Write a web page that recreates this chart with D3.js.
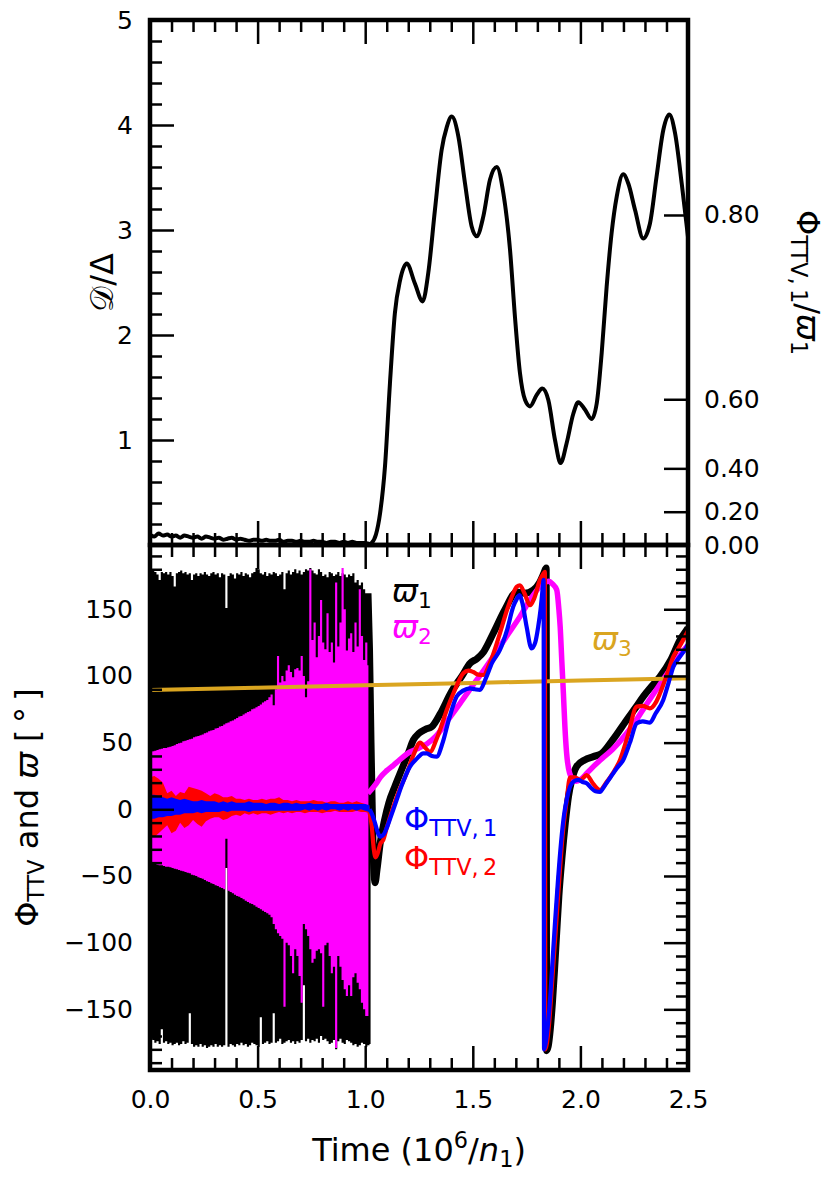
<!DOCTYPE html>
<html><head><meta charset="utf-8">
<script src="https://cdn.jsdelivr.net/npm/d3@7"></script>
<style>body{margin:0;background:#fff}svg{display:block}text{font-family:"DejaVu Sans",sans-serif}</style>
</head><body><svg id="c" width="830" height="1178"></svg>
<script>
// ---------------- DATA ----------------
const xTicks = [0, 0.5, 1.0, 1.5, 2.0, 2.5];
const xTickLabels = ["0.0", "0.5", "1.0", "1.5", "2.0", "2.5"];
const topTicks = [1, 2, 3, 4, 5];
const topTickLabels = ["1", "2", "3", "4", "5"];
const twinTicks = [0, 0.2, 0.4, 0.6, 0.8];
const twinTickLabels = ["0.00", "0.20", "0.40", "0.60", "0.80"];
const twinEquiv = [0, 0.317, 0.730, 1.388, 3.143];   // D/Δ value at which each twin tick sits
const botTicks = [-150, -100, -50, 0, 50, 100, 150];
const botTickLabels = ["\u2212150", "\u2212100", "\u221250", "0", "50", "100", "150"];

// top panel: D/Δ
const topEarlyD = [0.10,0.08,0.11,0.09,0.10,0.08,0.09,0.07,0.09,0.08,
  0.07,0.08,0.06,0.08,0.07,0.06,0.07,0.05,0.06,0.07,
  0.05,0.06,0.05,0.04,0.05,0.05,0.04,0.05,0.04,0.04,
  0.05,0.03,0.04,0.04,0.03,0.04,0.03,0.03,0.04,0.03,
  0.03,0.02,0.03,0.03,0.02,0.03,0.02,0.03,0.02,0.02,
  0.02,0.01];
const topLateT = [1.03,1.05,1.069,1.092,1.115,1.138,1.162,1.193,1.231,1.267,
  1.293,1.324,1.355,1.379,1.402,1.433,1.464,1.495,1.518,1.549,
  1.580,1.611,1.642,1.673,1.696,1.719,1.743,1.766,1.797,1.823,
  1.851,1.882,1.908,1.936,1.967,1.990,2.021,2.052,2.076,2.099,
  2.122,2.145,2.169,2.199,2.223,2.254,2.292,2.323,2.354,2.385,
  2.413,2.440,2.471,2.502];
const topLateD = [0.02,0.10,0.30,0.75,1.54,2.21,2.52,2.68,2.49,2.32,
  2.59,3.19,3.76,3.98,4.08,3.89,3.44,3.03,2.94,3.13,
  3.48,3.60,3.35,2.81,2.17,1.64,1.38,1.32,1.43,1.49,
  1.38,1.00,0.78,0.97,1.25,1.36,1.29,1.20,1.35,1.83,
  2.46,2.97,3.32,3.53,3.44,3.19,2.92,3.06,3.51,3.95,
  4.10,3.92,3.44,2.90];

// bottom panel, circulating phase (t = 0 .. 1.02, step 0.01): envelopes of ϖ1 and ϖ2
const w1Top = [179,179,178,176,172,178,177,178,176,178,
  175,167,177,178,179,177,178,176,177,172,
  176,177,175,177,176,178,176,175,177,178,
  176,177,174,177,176,151,175,177,176,173,
  177,176,178,175,177,176,174,177,178,181,
  180,177,176,178,175,177,176,178,177,175,
  176,178,165,177,179,176,178,180,177,179,
  176,178,180,179,181,179,177,176,180,178,
  175,176,174,178,177,175,176,178,175,177,
  176,174,176,175,177,170,172,168,170,165,
  160,161,158];
const w1Bot = [-172,-173,-175,-174,-176,-165,-175,-174,-176,-175,
  -177,-176,-175,-177,-176,-174,-176,-175,-153,-176,
  -178,-177,-178,-176,-178,-177,-179,-178,-177,-178,
  -176,-178,-177,-178,-177,-44,-178,-176,-177,-178,
  -176,-177,-175,-177,-176,-178,-177,-175,-176,-177,
  -178,-156,-176,-175,-174,-176,-175,-153,-175,-174,
  -172,-176,-175,-174,-173,-175,-174,-176,-174,-175,
  -173,-132,-174,-172,-175,-173,-174,-172,-175,-170,
  -173,-172,-174,-176,-175,-173,-180,-174,-172,-175,
  -176,-173,-174,-175,-177,-176,-178,-177,-175,-176,
  -178,-177,-176];
const w2Top = [43,43.5,44,44.5,45,45.5,46,46,46.5,47,
  47.5,48,49,49.5,50,51,51.5,52,52.5,53,
  54,54.5,55,55.5,56,57,57.5,58.5,59,59.5,
  60.5,61,62,62.5,63.5,64.5,65,66,66.5,67.5,
  68.5,69.5,70,71,72,73,73.5,75,75.5,76.5,
  77.5,78.5,80,81,82,84,86,78,90,115,
  95,100,96,104,108,103,99,105,106,104,
  115,100,84,96,180,127,140,114,130,157,
  125,120,147,118,125,110,170,122,140,181,
  150,119,128,132,118,140,122,165,130,112,
  125,108];
const w2Bot = [-40,-40.5,-41,-41.5,-42,-42,-42.5,-43,-43,-43.5,
  -44,-44.5,-45,-45.5,-46,-46.5,-47,-47.5,-48,-49,
  -49.5,-50,-51,-51.5,-52,-53,-54,-54.5,-55.5,-56,
  -57,-57.5,-58.5,-59,-60,-22,-61,-62,-63,-64,
  -65,-65.5,-66.5,-67.5,-68.5,-69.5,-70.5,-71,-72,-73,
  -74,-75,-76,-77,-78,-79,-81,-86,-90,-93,
  -95,-97,-148,-100,-102,-110,-123,-105,-110,-125,
  -145,-86,-90,-95,-105,-115,-112,-106,-105,-108,
  -148,-102,-100,-110,-123,-118,-179,-110,-118,-128,
  -135,-140,-132,-140,-126,-123,-130,-135,-145,-150,
  -155,-155];
// Φ_TTV bands in the early phase (t = 0 .. 1.02, step 0.02)
const p2Hi = [24,25,23,20,12,14,10,13,12,17,16,15,14,12,10,12,11,9,9,10,8,8,7,8,7,7,8,7,8,8,9,7,7,6,7,6,6,6,7,6,6,5,6,6,5,5,6,5,6,5,4,2];
const p2Lo = [-20,-21,-18,-15,-12,-18,-16,-10,-14,-12,-8,-11,-13,-9,-7,-6,-6,-8,-7,-5,-4,-5,-3,-4,-3,-4,-3,-3,-4,-3,-2,-3,-2,-3,-2,-2,-3,-2,-2,-2,-3,-2,-2,-1,-2,-2,-2,-2,-1,-2,-2,-3];
const p1Hi = [11,11,10,9,8,9,8,7,8,7,6,6,7,6,6,6,5,6,5,6,5,5,5,6,5,5,5,4,5,5,4,5,5,4,5,4,4,5,4,4,4,5,4,4,4,4,4,4,4,4,4,3];
const p1Lo = [-7,-7,-6,-6,-5,-5,-4,-4,-3,-3,-3,-2,-3,-2,-2,-2,-2,-1,-2,-1,-1,-1,-1,-2,-1,-1,-1,-1,-1,-1,-1,-1,-1,-1,-1,-1,0,-1,0,-1,0,-1,0,0,-1,0,-1,0,-1,0,-1,-2];

// libration phase
const w1LateT = [1.013,1.02,1.027,1.034,1.04,1.046,1.055,1.07,1.09,1.11,
  1.14,1.17,1.2,1.224,1.25,1.28,1.31,1.35,1.40,1.45,
  1.487,1.52,1.55,1.595,1.65,1.704,1.74,1.781,1.81,1.83,
  1.841,1.843,1.85,1.86,1.87,1.88,1.89,1.90,1.915,1.93,
  1.945,1.96,1.982,2.02,2.06,2.10,2.15,2.215,2.26,2.292,
  2.33,2.37,2.42,2.463,2.494,2.5];
const w1LateV = [162,120,50,-10,-45,-55,-45,-25,-8,5,
  18,30,42,52,57,60,62,72,88,100,
  109.5,113,118,132,150,163,162,164.5,170,177,
  181,-181,-178,-165,-145,-120,-92,-65,-35,-10,
  10,22,32,37,39.5,42,52,67,77,84.5,
  92,99.5,112,127,134.5,136];
const w2LateT = [1.013,1.03,1.05,1.07,1.10,1.131,1.16,1.208,1.25,1.286,
  1.33,1.38,1.441,1.5,1.55,1.595,1.65,1.719,1.77,1.812,
  1.835,1.851,1.87,1.89,1.90,1.906,1.914,1.921,1.928,1.936,
  1.95,1.967,1.98,1.998,2.03,2.06,2.1,2.15,2.215,2.26,
  2.3,2.373,2.43,2.494,2.5];
const w2LateV = [12,15,19,24,29,33,37,43,46,49,
  55,66,79.5,93,104,114.5,128,144.5,158,167,
  170,171,169,164.5,150,137,110,87,62,42,
  27,22,21,22,27,32,38,45,57,67,
  77,94.5,108,122,123];
const w3T = [0, 0.5, 1.0, 1.5, 2.0, 2.5];
const w3V = [89.5, 91.2, 93.0, 94.8, 96.5, 98.2];
const p1LateT = [1.02,1.03,1.045,1.06,1.07,1.085,1.10,1.12,1.146,1.17,
  1.208,1.24,1.27,1.286,1.31,1.332,1.36,1.39,1.425,1.455,
  1.487,1.51,1.533,1.56,1.59,1.626,1.66,1.688,1.705,1.716,
  1.73,1.75,1.773,1.79,1.804,1.815,1.824,1.829,1.831,1.838,
  1.85,1.86,1.87,1.882,1.895,1.91,1.925,1.94,1.952,1.97,
  1.99,2.01,2.029,2.05,2.07,2.091,2.11,2.14,2.17,2.199,
  2.23,2.262,2.29,2.323,2.35,2.385,2.41,2.432,2.46,2.494,
  2.5];
const p1LateV = [0,-3,-10,-18,-20.5,-19,-14,-5,7,18,
  32,38,42,42,40,39.5,50,68,84.5,89,
  90.7,90,89.5,98,110,119.5,135,152,158,160.7,
  155,137,120.7,125,137,150,164.5,172,-180,-176,
  -160,-140,-115,-85,-55,-25,-3,10,17,21,
  22,20.5,19.5,16,13.5,13,17,24,31,37,
  50,64.5,66,65,72,82,95,107,114,122,
  124];
const p2LateT = [1.02,1.03,1.04,1.048,1.058,1.07,1.084,1.10,1.131,1.16,
  1.193,1.225,1.255,1.28,1.301,1.33,1.355,1.379,1.41,1.456,
  1.48,1.502,1.525,1.549,1.58,1.626,1.66,1.688,1.705,1.719,
  1.74,1.766,1.785,1.812,1.825,1.835,1.837,1.845,1.855,1.865,
  1.877,1.89,1.903,1.917,1.935,1.952,1.975,2.0,2.029,2.06,
  2.091,2.12,2.15,2.184,2.22,2.262,2.29,2.323,2.35,2.37,
  2.40,2.432,2.46,2.494,2.5];
const p2LateV = [-2,-12,-30,-36,-33,-26,-23,-14,2,15,
  27,41,50,46,43,52,63,74.5,87,102,
  104,103,101,100.7,110,132,150,162,167,168,
  162,153,158,172,176,178,-180,-175,-160,-138,
  -110,-80,-50,-20,5,24,24,22,25.7,19,
  14.5,20,27,37,55,77,77.5,75.7,80,87,
  100,114.5,122,132,134];

// ---------------- LAYOUT ----------------
const L = 150, R = 688, T1 = 20, B1 = 545, T2 = 545, B2 = 1070;
const COL = {w1: "#000000", w2: "#ff00ff", w3: "#daa520", p1: "#0000ff", p2: "#ff0000"};
const svg = d3.select("#c");
const x = d3.scaleLinear().domain([0, 2.5]).range([L, R]);
const yT = d3.scaleLinear().domain([0, 5]).range([B1, T1]);
const yB = d3.scaleLinear().domain([-195.5, 198.2]).range([B2, T2]);
const yR = d3.scaleLinear().domain(twinTicks).range(twinEquiv.map(v => yT(v)));

const defs = svg.append("defs");
defs.append("clipPath").attr("id", "cp1").append("rect").attr("x", L).attr("y", T1).attr("width", R - L).attr("height", B1 - T1);
defs.append("clipPath").attr("id", "cp2").append("rect").attr("x", L).attr("y", T2).attr("width", R - L).attr("height", B2 - T2);

// ---------------- TOP PANEL ----------------
const gTop = svg.append("g").attr("clip-path", "url(#cp1)");
const topData = topEarlyD.map((d, i) => ({t: i * 0.02, v: d}))
  .concat(topLateT.map((t, i) => ({t, v: topLateD[i]})));
gTop.append("path").datum(topData)
  .attr("d", d3.line().x(d => x(d.t)).y(d => yT(d.v)).curve(d3.curveMonotoneX))
  .attr("fill", "none").attr("stroke", "#000").attr("stroke-width", 4).attr("stroke-linejoin", "round");

// ---------------- BOTTOM PANEL ----------------
const gB = svg.append("g").attr("clip-path", "url(#cp2)");
function band(hi, lo, step, extra) {
  const arr = hi.map((h, i) => ({t: i * step, hi: h, lo: lo[i]}));
  if (extra) { const l = arr[arr.length - 1]; arr.push({t: l.t + extra, hi: l.hi, lo: l.lo}); }
  return arr;
}
const areaStep = d3.area().x(d => x(d.t)).y0(d => yB(d.lo)).y1(d => yB(d.hi)).curve(d3.curveStepAfter);
const areaLin = d3.area().x(d => x(d.t)).y0(d => yB(d.lo)).y1(d => yB(d.hi));
const lineB = d3.line().x(d => x(d.t)).y(d => yB(d.v)).curve(d3.curveMonotoneX);
const pts = (T, V) => T.map((t, i) => ({t, v: V[i]}));

// ϖ1
gB.append("path").datum(band(w1Top, w1Bot, 0.01, 0.005)).attr("d", areaStep).attr("fill", COL.w1);
gB.append("path").datum(pts(w1LateT, w1LateV)).attr("d", lineB)
  .attr("fill", "none").attr("stroke", COL.w1).attr("stroke-width", 7).attr("stroke-linejoin", "round");
// ϖ2
gB.append("path").datum(band(w2Top, w2Bot, 0.01, 0.005)).attr("d", areaStep).attr("fill", COL.w2);
gB.append("path").datum(pts(w2LateT, w2LateV)).attr("d", lineB)
  .attr("fill", "none").attr("stroke", COL.w2).attr("stroke-width", 5.5).attr("stroke-linejoin", "round");
// ϖ3
gB.append("path").datum(pts(w3T, w3V)).attr("d", d3.line().x(d => x(d.t)).y(d => yB(d.v)))
  .attr("fill", "none").attr("stroke", COL.w3).attr("stroke-width", 4);
// Φ_TTV,2
gB.append("path").datum(band(p2Hi, p2Lo, 0.02)).attr("d", areaLin).attr("fill", COL.p2);
gB.append("path").datum(pts(p2LateT, p2LateV)).attr("d", lineB)
  .attr("fill", "none").attr("stroke", COL.p2).attr("stroke-width", 4.2).attr("stroke-linejoin", "round");
// Φ_TTV,1
gB.append("path").datum(band(p1Hi, p1Lo, 0.02)).attr("d", areaLin).attr("fill", COL.p1);
gB.append("path").datum(pts(p1LateT, p1LateV)).attr("d", lineB)
  .attr("fill", "none").attr("stroke", COL.p1).attr("stroke-width", 4.2).attr("stroke-linejoin", "round");

// ---------------- AXES ----------------
const MAJ = 24, MIN = 12, FS = 25;
const xMinor = d3.range(0, 2.5001, 0.1).filter(v => Math.abs(v * 2 - Math.round(v * 2)) > 1e-6);
const topMinor = d3.range(0, 5.0001, 0.2).filter(v => Math.abs(v - Math.round(v)) > 1e-6);
const botMinor = d3.range(-190, 191, 10).filter(v => v % 50 !== 0);

function axis(gen, pos, vals, size, fmt, pad) {
  const g = svg.append("g").attr("transform", pos).call(
    gen.tickValues(vals).tickSize(-size).tickPadding(pad || 0).tickFormat(fmt || (() => "")));
  g.select(".domain").remove();
  g.selectAll(".tick line").attr("stroke", "#000").attr("stroke-width", 2.5);
  g.selectAll(".tick text").attr("font-size", FS).attr("font-family", "DejaVu Sans").attr("fill", "#000");
  return g;
}
// x axes (all four horizontal spines)
axis(d3.axisTop(x), `translate(0,${T1})`, xTicks, MAJ);
axis(d3.axisTop(x), `translate(0,${T1})`, xMinor, MIN);
axis(d3.axisBottom(x), `translate(0,${B1})`, xTicks, MAJ);
axis(d3.axisBottom(x), `translate(0,${B1})`, xMinor, MIN);
axis(d3.axisTop(x), `translate(0,${T2})`, xTicks, MAJ);
axis(d3.axisTop(x), `translate(0,${T2})`, xMinor, MIN);
axis(d3.axisBottom(x), `translate(0,${B2})`, xTicks, MAJ, (d, i) => xTickLabels[i], 20);
axis(d3.axisBottom(x), `translate(0,${B2})`, xMinor, MIN);
// top panel y
axis(d3.axisLeft(yT), `translate(${L},0)`, topTicks, MAJ, (d, i) => topTickLabels[i], 17);
axis(d3.axisLeft(yT), `translate(${L},0)`, topMinor, MIN);
axis(d3.axisRight(yR), `translate(${R},0)`, twinTicks, MAJ, (d, i) => twinTickLabels[i], 16);
// bottom panel y
axis(d3.axisLeft(yB), `translate(${L},0)`, botTicks, MAJ, (d, i) => botTickLabels[i], 17);
axis(d3.axisLeft(yB), `translate(${L},0)`, botMinor, MIN);
axis(d3.axisRight(yB), `translate(${R},0)`, botTicks, MAJ);
axis(d3.axisRight(yB), `translate(${R},0)`, botMinor, MIN);

// spines
[[T1, B1], [T2, B2]].forEach(([a, b]) => {
  svg.append("rect").attr("x", L).attr("y", a).attr("width", R - L).attr("height", b - a)
    .attr("fill", "none").attr("stroke", "#000").attr("stroke-width", 4.5);
});

// ---------------- TEXT ----------------
function rich(parent, parts, size, attrs) {
  const t = parent.append("text").attr("font-size", size).attr("fill", "#000");
  Object.entries(attrs || {}).forEach(([k, v]) => t.attr(k, v));
  let shift = 0;
  parts.forEach(p => {
    const ts = t.append("tspan").text(p.t);
    const target = p.sub ? size * 0.2 : p.sup ? -size * 0.42 : 0;
    if (target !== shift) ts.attr("dy", target - shift);
    shift = target;
    if (p.sub || p.sup) ts.attr("font-size", size * 0.7);
    if (p.it) ts.attr("font-style", "italic");
  });
  return t;
}
const TS = 32;
rich(svg, [{t: "Time (10"}, {t: "6", sup: true}, {t: "/"}, {t: "n", it: true}, {t: "1", sub: true}, {t: ")"}], TS,
  {x: (L + R) / 2, y: 1161, "text-anchor": "middle"});
rich(svg, [{t: "\u03A6"}, {t: "TTV", sub: true}, {t: " and "}, {t: "\u03D6", it: true}, {t: " [\u2009\u00B0\u2009]"}], TS,
  {"text-anchor": "middle", transform: `translate(38,${(T2 + B2) / 2}) rotate(-90)`});
rich(svg, [{t: "\uD835\uDC9F"}, {t: "/\u0394"}], TS,
  {"text-anchor": "middle", transform: `translate(113,${(T1 + B1) / 2}) rotate(-90)`});
rich(svg, [{t: "\u03A6"}, {t: "TTV,\u20091", sub: true}, {t: "/"}, {t: "\u03D6", it: true}, {t: "1", sub: true}], TS,
  {"text-anchor": "middle", transform: `translate(797,${(T1 + B1) / 2}) rotate(90)`});

// legend labels
rich(svg, [{t: "\u03D6", it: true}, {t: "1", sub: true}], 31, {x: 392, y: 602, fill: COL.w1});
rich(svg, [{t: "\u03D6", it: true}, {t: "2", sub: true}], 31, {x: 392, y: 638, fill: COL.w2});
rich(svg, [{t: "\u03D6", it: true}, {t: "3", sub: true}], 31, {x: 592, y: 650, fill: COL.w3});
rich(svg, [{t: "\u03A6"}, {t: "TTV,\u20091", sub: true}], TS, {x: 404, y: 830, fill: COL.p1});
rich(svg, [{t: "\u03A6"}, {t: "TTV,\u20092", sub: true}], TS, {x: 404, y: 869, fill: COL.p2});
</script></body></html>
